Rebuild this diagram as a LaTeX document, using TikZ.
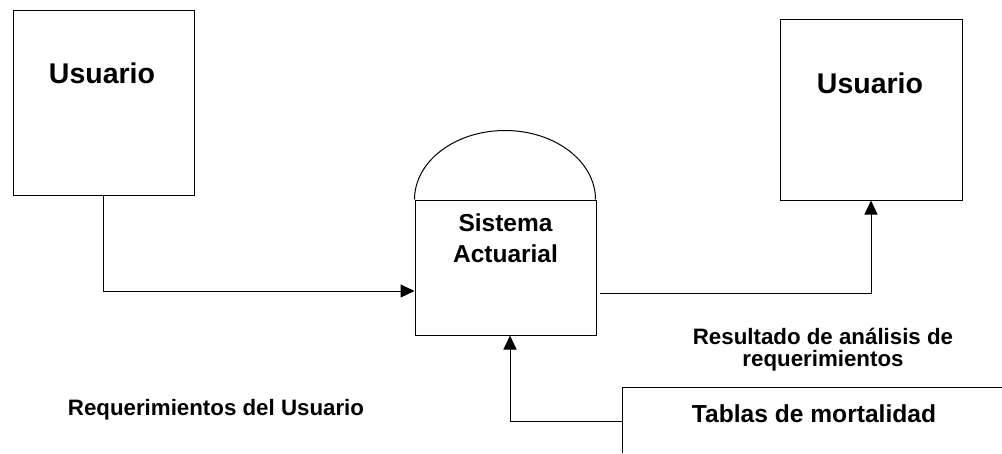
\documentclass[tikz,border=0pt]{standalone}
\usepackage{fontspec}
\setmainfont{Liberation Sans}
\usetikzlibrary{arrows.meta}
\begin{document}
\begin{tikzpicture}[x=1pt,y=-1pt,
  ent/.style={draw,line width=1pt,inner sep=0pt},
  lbl/.style={anchor=base,inner sep=0pt,font=\bfseries\fontsize{#1}{#1}\selectfont},
  flow/.style={draw,line width=1pt,-{Triangle[length=14pt,width=13pt]}},
  plain/.style={draw,line width=1pt}]
\useasboundingbox (0,0) rectangle (1002,453);
% entities
\node[ent,minimum width=181pt,minimum height=185pt] (u1) at (103.5,102.5) {};
\node[ent,minimum width=182pt,minimum height=181pt] (u2) at (871,109.5) {};
\node[ent,minimum width=181pt,minimum height=135pt] (sys) at (505.5,267.5) {};
\draw[plain] (sys.north west) arc[start angle=180,end angle=0,x radius=90.5pt,y radius=69pt];
% data store (open box)
\coordinate (tc) at (622.7,387);
\draw[plain] (622.7,453) -- (tc) -- (1002,387);
% labels
\node[lbl=28.5] (tu1) at (102,83) {Usuario};
\node[lbl=28.5] (tu2) at (870,93) {Usuario};
\node[lbl=24.5] (ts1) at (505.5,231.7) {Sistema};
\node[lbl=24.5] (ts2) at (505.5,262.7) {Actuarial};
\node[lbl=24.6] (tt) at (814,422.7) {Tablas de mortalidad};
\node[lbl=22.3] (tr1) at (823,344.3) {Resultado de análisis de};
\node[lbl=22.3] (tr2) at (823,366.7) {requerimientos};
\node[lbl=22.3] (tq) at (216,415.7) {Requerimientos del Usuario};
% connectors
\draw[flow] (u1.south) |- ([yshift=-23.5pt]sys.west);
\coordinate (o1) at (600,293);
\draw[flow] (o1) -| (u2.south);
\coordinate (t1) at (622.7,421.3);
\draw[flow] (t1) -| ([xshift=4.5pt]sys.south);
\end{tikzpicture}
\end{document}
